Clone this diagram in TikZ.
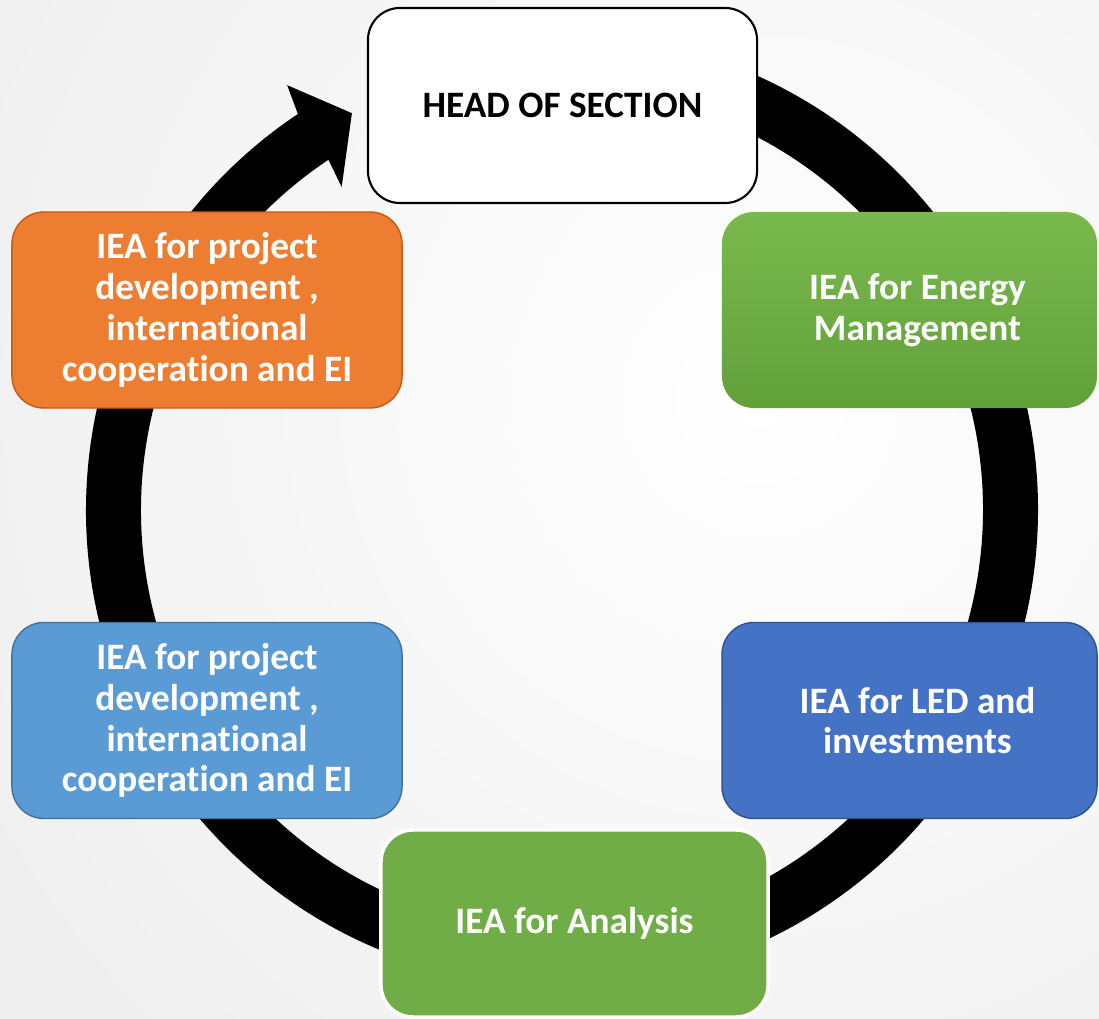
\documentclass[tikz,border=0pt]{standalone}
\usepackage{fontspec}
\setmainfont{Carlito}[Ligatures=NoCommon]
\usetikzlibrary{calc}
\definecolor{orangebox}{HTML}{ED7D31}
\definecolor{orangeline}{HTML}{C55A11}
\definecolor{lightbluebox}{HTML}{5B9BD5}
\definecolor{lightblueline}{HTML}{41719C}
\definecolor{bluebox}{HTML}{4472C4}
\definecolor{blueline}{HTML}{2F528F}
\definecolor{greenbox}{HTML}{70AD47}
\definecolor{greentop}{HTML}{79B94D}
\definecolor{greenbottom}{HTML}{62A13A}
\newcommand{\inset}{\hspace*{0.4cm}}
\tikzset{
  unitbox/.style={rectangle, rounded corners=0.8cm, align=center, inner sep=0pt,
    text=white, font=\bfseries\fontsize{26.5}{29}\selectfont},
  leftbox/.style={unitbox, minimum width=9.75cm, minimum height=4.9cm, line width=1pt},
  rightbox/.style={unitbox, minimum width=9.375cm, minimum height=4.9cm, line width=1pt}
}
\begin{document}
\begin{tikzpicture}[x=0.025cm,y=0.025cm]
	\useasboundingbox (0,0) rectangle (1099,1019);
	% Background
	\begin{scope}
		\clip (0,0) rectangle (1099,1019);
		\shade[inner color=white, outer color=black!14] (760,620) circle (2000);
	\end{scope}
	% Define the desired points
	\coordinate (center) at (562,509);
	% Draw the cycle arrow
	\fill[black] ($(center)+(85:476)$) arc[start angle=85, end angle=-236.3, radius=476]
		-- ($(center)+(122.9:506)$) -- ($(center)+(117.9:449)$) -- ($(center)+(124.3:391)$)
		-- ($(center)+(123.7:421)$) arc[start angle=-236.3, end angle=85, radius=421] -- cycle;
	% Add the boxes
	\node[unitbox, draw=black, line width=1.5pt, fill=white, text=black,
		minimum width=9.725cm, minimum height=4.875cm] (head) at (562.5,913.5) {HEAD OF SECTION};
	\node[rightbox, top color=greentop, bottom color=greenbottom] (energy) at (909.5,709)
		{\inset IEA for Energy\\\inset Management};
	\node[rightbox, fill=bluebox, draw=blueline] (led) at (909.5,298.5)
		{\inset IEA for LED and\\\inset investments};
	\node[unitbox, fill=greenbox, draw=white, line width=2.5pt,
		minimum width=9.675cm, minimum height=4.675cm] (analysis) at (574.5,95.5) {IEA for Analysis};
	\node[leftbox, fill=lightbluebox, draw=lightblueline] (cooplow) at (207,298.5)
		{IEA for project\\development ,\\international\\cooperation and EI};
	\node[leftbox, fill=orangebox, draw=orangeline] (coophigh) at (207,709)
		{IEA for project\\development ,\\international\\cooperation and EI};
\end{tikzpicture}
\end{document}
